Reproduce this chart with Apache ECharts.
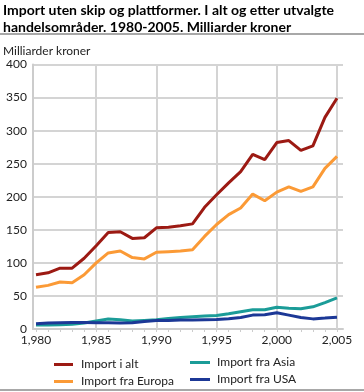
<!DOCTYPE html>
<html><head><meta charset="utf-8">
<script src="https://cdn.jsdelivr.net/npm/echarts@6/dist/echarts.min.js"></script>
<style>html,body{margin:0;padding:0;background:#fff}#c{width:364px;height:392px}</style>
</head><body><div id="c"></div>
<script>
const years = [1980,1981,1982,1983,1984,1985,1986,1987,1988,1989,1990,1991,1992,1993,1994,1995,1996,1997,1998,1999,2000,2001,2002,2003,2004,2005];
const importTotal = [82,85,92,92,107,126,146,147,137,138,153,154,156,159,184,203,221,238,264,256,282,285,270,277,320,349];
const importEurope = [63,66,71,70,82,100,115,118,108,106,116,117,118,120,140,158,173,183,204,194,207,215,208,215,243,261];
const importAsia = [6,6,6.5,7,9,12,15,14,12,13,14,16,17.5,18.5,19.5,20.5,23,26,29,29,33,31.5,30.5,33.5,40,47];
const importUSA = [8,9,9.5,10,10,9.5,9.5,9,9.5,11.5,13,13,13.5,13.5,14,14.3,15.5,17.5,21,21.5,24.5,21,17.5,15.3,16.5,17.8];
const xTickLabels = [1980,1985,1990,1995,2000,2005];
const yTicks = [0,50,100,150,200,250,300,350,400];
const seriesNames = ['Import i alt','Import fra Europa','Import fra Asia','Import fra USA'];
const colors = ['#9c1a13','#fb9a36','#1b9c98','#1c3896'];

const pairs = a => years.map((y,i)=>[y,a[i]]);
const font = 'Lato, sans-serif';
const chart = echarts.init(document.getElementById('c'), null, {renderer:'canvas'});
const mk = (name, data, color, extra) => Object.assign({
  name, type:'line', data: pairs(data), symbol:'none', smooth:false,
  lineStyle:{width:3, color}, itemStyle:{color}, z:5
}, extra||{});
chart.setOption({
  animation:false,
  textStyle:{fontFamily:font},
  title:[{
    text:'Import uten skip og plattformer. I alt og etter utvalgte\nhandelsområder. 1980-2005. Milliarder kroner',
    left:3, top:2, padding:0,
    textStyle:{fontSize:14, fontWeight:'bold', color:'#000', lineHeight:17, fontFamily:font}
  },{
    text:'Milliarder kroner', left:3, top:45, padding:0,
    textStyle:{fontSize:12, fontWeight:'normal', color:'#222', fontFamily:font}
  }],
  graphic:[
    {type:'rect', shape:{x:0,y:33,width:364,height:2}, style:{fill:'#a8a8a8'}},
    {type:'rect', shape:{x:0,y:389,width:364,height:2}, style:{fill:'#a8a8a8'}}
  ],
  legend:[{
    data:[seriesNames[0], seriesNames[1]], orient:'vertical', left:54, top:357, height:60, padding:0,
    itemWidth:19, itemHeight:3, itemGap:2, icon:'rect',
    textStyle:{fontSize:12, color:'#222', fontFamily:font, padding:[0,0,0,3], lineHeight:15}
  },{
    data:[seriesNames[2], seriesNames[3]], orient:'vertical', left:190, top:355, height:60, padding:0,
    itemWidth:20, itemHeight:3, itemGap:2, icon:'rect',
    textStyle:{fontSize:12, color:'#222', fontFamily:font, padding:[0,0,0,2], lineHeight:15}
  }],
  grid:{left:33, right:21, top:64.5, bottom:63, containLabel:false},
  xAxis:{
    type:'value', min:1979.75, max:2005.5,
    axisLine:{show:true, lineStyle:{color:'#cccccc', width:2}},
    axisTick:{show:true, inside:false, length:3, customValues:years, lineStyle:{color:'#cccccc', width:1}},
    axisLabel:{customValues:xTickLabels, color:'#222', fontSize:12, margin:5, fontFamily:font},
    splitLine:{show:false}
  },
  yAxis:{
    type:'value', min:0, max:400, interval:50,
    axisLine:{show:true, lineStyle:{color:'#cccccc', width:2}},
    axisTick:{show:false},
    axisLabel:{color:'#222', fontSize:12, margin:6, fontFamily:font},
    splitLine:{show:true, lineStyle:{color:'#d4d4d4', width:2}}
  },
  series:[
    mk(seriesNames[0], importTotal, colors[0], {
      markLine:{silent:true, symbol:'none', label:{show:false},
        lineStyle:{color:'#d4d4d4', width:2, type:'solid'},
        data: xTickLabels.slice(1).map(v=>({xAxis:v})), z:1}
    }),
    mk(seriesNames[1], importEurope, colors[1]),
    mk(seriesNames[2], importAsia, colors[2]),
    mk(seriesNames[3], importUSA, colors[3])
  ]
});
</script></body></html>
